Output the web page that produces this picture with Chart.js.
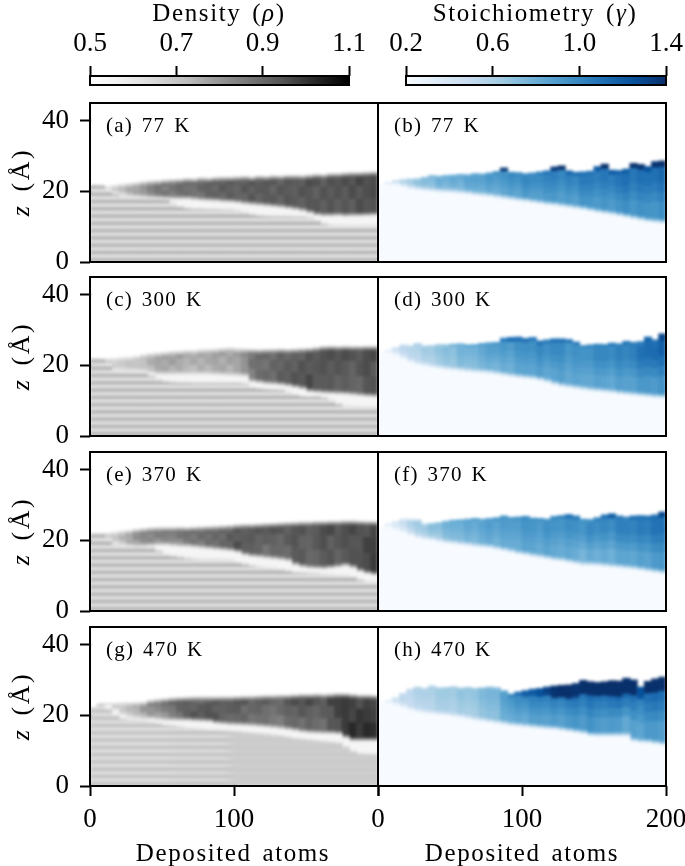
<!DOCTYPE html>
<html>
<head>
<meta charset="utf-8">
<script src="https://cdn.jsdelivr.net/npm/chart.js@4"></script>
<style>
html, body { margin: 0; padding: 0; background: #fff; }
body { width: 685px; height: 866px; overflow: hidden; position: relative; font-family: "Liberation Serif", serif; color: #000; }
canvas { position: absolute; }
.lbl { position: absolute; white-space: nowrap; line-height: 1; }
.big { font-size: 25px; letter-spacing: 1.6px; word-spacing: 3px; transform: translateX(-50%); }
.tag { font-size: 21px; letter-spacing: 1.2px; word-spacing: 2.5px; }
.zlab { font-size: 26px; letter-spacing: 2.6px; word-spacing: 3px; transform: translate(-50%, -50%) rotate(-90deg); }
</style>
</head>
<body>
<script>
// column centres, deposited atoms
const atoms = [2.5,7.5,12.5,17.5,22.5,27.5,32.5,37.5,42.5,47.5,52.5,57.5,62.5,67.5,72.5,77.5,82.5,87.5,92.5,97.5,
  102.5,107.5,112.5,117.5,122.5,127.5,132.5,137.5,142.5,147.5,152.5,157.5,162.5,167.5,172.5,177.5,182.5,187.5,192.5,197.5];

const zTicks = [0, 20, 40];
const densityTicks = [0.5, 0.7, 0.9, 1.1];
const stoichTicks = [0.2, 0.6, 1.0, 1.4];
const greysStops = ["#ffffff","#f0f0f0","#d9d9d9","#bdbdbd","#969696","#737373","#525252","#252525","#000000"];
const bluesStops = ["#f7fbff","#deebf7","#c6dbef","#9ecae1","#6baed6","#4292c6","#2171b5","#08519c","#08306b"];

// substrate layers in z
const stripeZ = [0,1.03,2.06,3.09,4.12,5.15,6.18,7.21,8.24,9.27,10.3,11.33,12.36,13.39,14.42,15.45,16.48,17.51,18.54,19.57,20.6,21.63,22.66,23.69];
const stripeDark = [.74,.74,.74,.74,.74,.74,.74,.74,.74,.74,.74,.74,.74,.74,.74,.74,.74,.74,.74,.74];
const stripeLight = [.62,.62,.62,.62,.62,.62,.62,.62,.62,.62,.62,.62,.62,.62,.62,.62,.62,.62,.62,.62];
const gStripeDark = [.71,.71,.71,.71,.71,.71,.71,.71,.71,.71,.69,.69,.69,.69,.69,.69,.69,.69,.69,.69];
const gStripeLight = [.63,.63,.63,.63,.63,.63,.64,.64,.64,.64,.68,.68,.68,.68,.68,.68,.68,.68,.68,.68];

// small column to column changes seen in the film
const densStreak = [.01,-.01,.01,0,-.02,.01,.02,-.01,-.01,.01,.02,-.02,0,.01,-.01,-.02,.01,.01,-.01,.02,
  0,-.01,.02,-.01,.01,.01,-.02,.01,0,-.01,.02,.01,-.02,.01,-.01,.01,-.01,.02,-.01,0];
const stoichStreak = [.01,-.02,.02,-.01,-.02,.02,.01,-.02,.03,-.01,.01,-.03,.02,.01,-.01,.02,-.02,.01,.02,-.02,
  .03,-.01,-.02,.01,.02,-.02,.01,-.03,.02,.01,-.01,.02,-.02,.01,.03,-.02,.01,-.01,-.02,.02];

// (a) 77 K density
const aTop = [21.7,21.6,21.3,21.7,22.0,22.2,22.4,22.7,22.9,23.0,23.2,23.3,23.4,23.6,23.5,23.8,23.7,23.9,24.0,24.0,
  24.1,24.2,24.0,24.3,24.2,24.4,24.3,24.5,24.5,24.4,24.6,24.8,24.7,25.0,25.0,25.2,25.3,25.3,25.4,25.5];
const aBot = [21.7,21.6,20.8,19.8,19.3,19.0,18.9,18.8,18.7,18.6,18.5,18.4,18.4,18.4,18.2,18.0,17.9,17.8,17.6,17.5,
  17.3,17.0,16.8,16.6,16.4,16.2,16.0,15.7,15.4,15.0,14.4,13.8,13.6,13.6,13.7,13.5,13.6,13.6,13.7,13.8];
const aGap = [21.7,21.6,20.2,19.0,18.4,18.0,17.8,17.6,17.5,17.5,17.4,16.4,15.4,15.0,14.8,14.8,14.7,14.7,14.6,14.6,
  14.4,13.8,13.2,12.9,12.8,12.7,12.7,12.7,12.6,12.6,12.4,11.4,10.6,10.2,10.1,10.0,10.0,10.0,10.1,10.1];
const aUpper = [.7,.7,.74,.8,.84,.87,.89,.91,.91,.92,.92,.93,.93,.93,.93,.94,.94,.95,.95,.96];
const aLower = [.68,.68,.7,.76,.84,.86,.88,.88,.9,.91,.91,.92,.92,.93,.93,.92,.94,.93,.93,.95];

// (c) 300 K density
const cTop = [21.9,21.8,21.9,22.0,22.2,22.3,22.6,23.0,23.3,23.5,23.7,23.9,24.0,24.2,24.2,24.4,24.5,24.6,24.8,24.9,
  24.7,24.6,24.5,24.4,24.5,24.5,24.6,24.5,24.6,24.7,24.8,25.0,25.3,25.4,25.3,25.4,25.3,25.3,25.4,25.4];
const cBot = [21.9,21.8,20.4,19.2,19.0,18.9,18.9,18.8,18.4,18.0,18.0,18.0,18.0,18.0,18.0,18.0,18.0,17.9,17.8,17.7,
  17.6,17.5,15.9,15.6,15.3,15.2,15.0,14.7,14.3,13.9,13.1,12.9,12.7,12.6,12.5,12.4,12.2,12.0,11.8,11.7];
const cGap = [21.9,21.8,19.8,18.4,18.0,17.8,17.7,17.6,16.8,15.8,15.2,15.0,14.9,14.9,14.8,14.8,14.8,14.8,14.8,14.8,
  14.8,14.6,13.4,13.2,13.0,12.9,12.8,12.2,11.4,11.0,10.9,11.0,10.6,9.8,8.8,8.2,8.1,8.0,8.0,8.0];
const cUpper = [.69,.69,.7,.72,.76,.78,.78,.76,.77,.78,.78,.87,.89,.91,.91,.93,.95,.95,.95,.95];
const cLower = [.68,.68,.69,.7,.74,.76,.74,.73,.74,.76,.76,.85,.89,.92,.94,.95,.93,.92,.91,.93];

// (e) 370 K density
const eTop = [21.9,21.9,22.1,22.3,22.6,22.8,23.1,23.3,23.5,23.6,23.6,23.6,23.7,23.6,23.7,23.8,23.9,24.0,24.1,24.2,
  24.4,24.5,24.5,24.6,24.7,24.8,24.9,25.0,25.1,25.2,25.2,25.3,25.3,25.4,25.4,25.5,25.5,25.4,25.3,25.3];
const eBot = [21.9,21.9,20.6,19.6,19.0,18.8,18.7,18.8,19.0,19.2,19.2,19.0,18.8,18.8,18.6,18.4,18.2,18.0,17.8,17.6,
  17.2,16.4,16.0,15.8,15.5,15.3,15.1,14.8,13.6,13.0,12.7,12.6,12.5,12.7,13.0,13.4,12.8,11.8,11.2,10.8];
const eGap = [21.9,21.9,19.8,18.6,18.0,17.8,17.7,17.7,17.6,16.8,15.7,15.3,15.0,14.7,14.5,14.4,14.4,14.4,14.3,14.2,
  13.4,13.0,12.6,12.3,12.0,11.8,11.5,11.1,10.7,10.6,10.5,10.4,10.2,10.0,9.8,9.7,9.4,8.6,8.1,8.0];
const eUpper = [.69,.7,.74,.83,.86,.88,.88,.9,.9,.9,.92,.93,.94,.94,.93,.93,.95,.95,.96,.96];
const eLower = [.68,.68,.71,.78,.82,.82,.82,.86,.88,.9,.94,.92,.88,.9,.92,.91,.92,.93,.94,.98];

// (g) 470 K density
const gTop = [22.3,23.2,23.4,23.5,23.6,23.6,23.6,23.7,24.3,24.5,24.7,24.9,25.0,25.1,25.2,25.2,25.2,25.2,25.2,25.2,
  25.3,25.4,25.4,25.5,25.6,25.6,25.7,25.7,25.8,25.9,25.9,26.0,25.9,26.0,26.1,26.1,25.9,25.7,25.7,25.6];
const gBot = [22.3,23.2,23.4,22.0,20.6,20.0,19.7,19.5,19.5,19.3,19.1,19.1,19.1,19.1,19.0,18.9,18.8,18.3,18.1,17.9,
  17.8,17.7,17.6,17.4,17.2,17.0,16.8,16.5,16.2,15.8,15.6,15.5,15.4,15.4,15.3,14.2,13.4,13.4,13.4,13.4];
const gGap = [22.3,23.2,21.5,19.8,18.8,18.6,18.4,18.2,17.8,17.4,17.0,16.8,16.5,16.2,16.0,15.8,15.6,15.5,15.4,15.3,
  15.2,15.0,14.8,14.6,14.4,14.2,14.0,13.6,13.2,13.0,12.8,12.6,12.4,12.2,12.0,10.8,9.6,8.9,8.8,8.7];
const gUpper = [.69,.69,.71,.78,.85,.89,.93,.91,.91,.93,.93,.92,.92,.91,.95,.95,.93,.99,.97,.97];
const gLower = [.68,.68,.69,.72,.78,.8,.88,.95,.94,.92,.89,.89,.87,.87,.89,.89,.89,.95,1.01,1.01];

// (b) 77 K stoichiometry
const bTop = [22.0,22.4,23.0,23.3,23.5,23.6,24.0,24.5,24.3,24.5,24.6,24.8,24.7,25.0,24.9,25.2,25.6,26.6,25.4,25.3,
  25.0,25.2,25.5,25.8,26.9,27.2,25.8,25.4,25.5,25.7,27.0,27.7,26.0,25.9,26.3,27.9,27.6,27.0,28.4,28.6];
const bBot = [22.0,22.0,21.6,21.0,20.5,20.2,20.0,19.8,19.6,19.5,19.4,19.2,19.0,18.7,18.5,18.3,18.0,17.7,17.4,17.1,
  16.9,16.6,16.3,16.0,15.8,15.5,15.2,14.9,14.6,14.2,13.8,13.5,13.2,12.8,12.4,12.0,11.6,11.2,11.0,10.8];
const bCrustLevel = [.3,.45,.5,.55,.6,.62,.68,.72,.75,.78,.8,.82,.82,.85,.85,.9,.95,1.38,1.0,.98,
  .98,.98,1.02,1.08,1.36,1.4,1.15,1.1,1.1,1.1,1.2,1.4,1.2,1.15,1.2,1.4,1.38,1.25,1.38,1.4];
const bCrust = [.5,.6,.6,.6,.8,.8,.8,.8,1,1.2,1,1.2,1.2,1.2,1.2,1.4,1.4,1.4,1.6,1.8];
const bUpper = [.4,.55,.65,.72,.78,.82,.85,.88,.92,.95,.98,1.0,1.02,1.02,1.04,1.05,1.06,1.08,1.1,1.12];
const bLower = [.35,.45,.58,.68,.72,.75,.78,.8,.82,.85,.88,.9,.9,.9,.92,.92,.92,.94,.95,.95];

// (d) 300 K stoichiometry
const dTop = [23.8,24.2,25.0,25.8,25.5,26.2,25.5,25.6,25.9,25.8,26.0,26.1,25.8,25.9,26.2,26.4,26.5,27.7,27.9,28.0,
  27.6,27.9,26.9,27.2,27.5,27.5,27.3,26.6,25.6,25.8,26.0,25.9,26.3,26.1,26.8,26.5,26.7,28.0,27.2,28.9];
const dBot = [23.8,23.5,22.6,21.6,20.6,20.0,19.6,19.2,18.9,18.6,18.4,18.2,18.0,17.8,17.7,17.5,17.2,16.9,16.6,16.3,
  16.1,15.9,15.5,15.0,14.3,13.8,13.5,13.2,12.9,12.6,12.4,12.2,12.0,11.7,11.5,11.3,11.1,10.9,10.7,10.6];
const dCrustLevel = [.3,.35,.45,.5,.55,.58,.6,.62,.65,.7,.78,.8,.85,.85,.88,.9,.92,1.05,1.1,1.1,
  1.1,1.05,1.1,1.05,1.1,1.1,1.08,1.05,.98,1.0,1.02,1.02,1.05,1.03,1.08,1.05,1.05,1.15,1.1,1.3];
const dCrust = [.5,.6,.6,.6,.8,.8,.8,.8,1.2,1.4,1.2,1.2,1.2,1,1,1,1,1,1.4,2];
const dUpper = [.35,.48,.55,.62,.68,.72,.78,.82,.9,.92,.95,.98,.98,.95,.95,.98,1.0,1.02,1.08,1.15];
const dLower = [.3,.42,.5,.55,.62,.68,.72,.75,.78,.82,.85,.87,.85,.85,.85,.85,.85,.88,.9,.92];

// (f) 370 K stoichiometry
const fTop = [24.0,24.7,25.3,26.0,26.0,25.9,24.6,24.8,25.0,25.4,25.7,25.8,26.0,26.2,26.0,26.2,26.4,26.9,26.5,26.6,
  26.8,26.3,26.2,26.0,26.8,27.0,27.3,26.9,26.0,25.9,26.4,27.2,27.5,26.9,26.6,26.9,27.0,26.9,27.2,28.0];
const fBot = [24.0,23.3,22.6,22.0,21.2,20.5,20.1,19.8,19.4,19.0,18.8,18.5,18.3,18.0,17.8,17.6,17.2,16.8,16.4,15.9,
  15.6,15.2,14.9,14.5,14.1,13.9,13.5,13.1,12.7,12.7,12.6,12.4,12.2,12.0,11.8,11.6,11.3,11.0,10.7,10.4];
const fCrustLevel = [.3,.32,.38,.42,.42,.45,.6,.68,.72,.78,.82,.85,.85,.88,.85,.88,.92,.95,.92,.95,
  .98,.95,.95,.95,.98,1.02,1.1,1.05,.95,.95,1.02,1.1,1.2,1.05,1.02,1.1,1.1,1.1,1.12,1.3];
const fCrust = [.5,.5,.6,.8,.8,.8,.8,1,1,1,1,1,1,1.2,1,1.2,1.4,1.2,1.2,1.6];
const fUpper = [.34,.4,.58,.68,.74,.78,.82,.85,.88,.9,.92,.92,.95,.95,.95,.98,1.0,1.02,1.04,1.08];
const fLower = [.3,.36,.5,.6,.66,.72,.75,.78,.8,.82,.84,.84,.84,.82,.78,.8,.82,.84,.86,.9];

// (h) 470 K stoichiometry
const hTop = [23.8,24.2,25.0,26.2,27.4,28.0,27.6,28.3,27.8,27.9,28.1,27.7,27.9,27.6,27.8,28.0,27.8,27.0,26.0,26.6,
  27.0,27.4,27.6,28.0,28.3,28.5,28.6,29.0,29.9,29.5,29.3,29.5,29.8,29.7,30.5,30.0,28.0,29.6,30.3,30.8];
const hBot = [23.8,23.3,22.6,22.0,21.3,20.8,20.5,20.2,20.0,19.8,19.5,19.2,18.8,18.4,18.1,17.8,17.5,17.2,16.9,16.7,
  16.5,16.3,16.1,15.9,15.8,15.5,15.2,14.9,14.6,14.0,13.9,13.9,13.9,13.9,13.9,12.4,12.1,12.0,11.7,11.4];
const hCrustLevel = [.3,.35,.42,.48,.52,.55,.56,.58,.6,.62,.62,.65,.65,.68,.68,.7,.72,.78,1.0,1.1,
  1.18,1.2,1.25,1.32,1.38,1.4,1.4,1.38,1.4,1.4,1.4,1.4,1.4,1.4,1.4,1.4,1.25,1.4,1.4,1.4];
const hCrust = [.5,.5,.5,.5,.5,.5,.5,.5,.5,1.2,2,2.5,3.5,4,4,4,4.5,4.5,3.5,4];
const hUpper = [.35,.45,.55,.6,.62,.65,.68,.72,.78,.92,1.0,1.02,1.05,1.08,1.1,1.1,1.12,1.15,1.05,1.12];
const hLower = [.3,.42,.5,.55,.58,.6,.62,.66,.72,.82,.85,.87,.88,.9,.92,.92,.9,.85,.88,.9];

const rowTops = [103, 277, 452, 627];
const panelH = 159;

function hexToRgb(h) {
    return [parseInt(h.substr(1, 2), 16), parseInt(h.substr(3, 2), 16), parseInt(h.substr(5, 2), 16)];
}

function cmap(stops, lo, hi, v) {
    let t = Math.min(1, Math.max(0, (v - lo) / (hi - lo))) * (stops.length - 1);
    let i = Math.min(stops.length - 2, Math.floor(t));
    let a = hexToRgb(stops[i]), b = hexToRgb(stops[i + 1]), f = t - i;
    return "rgb(" + a.map((c, k) => Math.round(c + (b[k] - c) * f)).join(",") + ")";
}
const grey = v => cmap(greysStops, 0.5, 1.1, v);
const blue = v => cmap(bluesStops, 0.2, 1.4, v);

// levels are read every 10 atoms, columns are 5 atoms wide
function colLevel(arr, i) {
    let h = Math.floor(i / 2);
    return i % 2 == 0 || h == arr.length - 1 ? arr[h] : (arr[h] + arr[h + 1]) / 2;
}

// one layer of floating bars, one bar per column
function band(lows, highs, colors) {
    return {
        data: atoms.map((x, i) => ({ x: x, y: highs[i] > lows[i] ? [lows[i], highs[i]] : null })),
        backgroundColor: colors,
        grouped: false,
        barPercentage: 1.03,
        categoryPercentage: 1,
        inflateAmount: 0.4,
        borderWidth: 0
    };
}

// stacks the film from edge functions (per column) and level functions (per column)
function filmBands(top, bot, edges, levels, paint) {
    let sets = [];
    let prev = bot;
    edges.forEach((edge, j) => {
        let next = atoms.map((x, i) => Math.min(top[i], Math.max(prev[i], edge(i, bot[i], top[i]))));
        sets.push(band(prev, next, atoms.map((x, i) => paint(levels[j](i)))));
        prev = next;
    });
    return sets;
}

function densitySets(top, bot, gap, upper, lower, sDark, sLight, shift) {
    let sets = [];
    let st = (i, s) => densStreak[(i + shift + s) % 40];
    for (let k = 0; k < stripeZ.length - 1; k++) {
        let levels = k % 2 == 0 ? sDark : sLight;
        sets.push(band(atoms.map(() => stripeZ[k]), gap.map(g => Math.min(g, stripeZ[k + 1])),
            atoms.map((x, i) => grey(colLevel(levels, i)))));
    }
    // film foot reaches a little under the read edge, the gap fades up from the stripes
    let foot = bot.map((b, i) => Math.max(gap[i], b - 0.8));
    let gapFade = gap.map((g, i) => Math.min(foot[i], g + 0.5));
    sets.push(band(gap, gapFade, atoms.map(() => grey(0.6))));
    sets.push(band(gapFade, foot, atoms.map(() => grey(0.55))));
    const lo = i => colLevel(lower, i), up = i => colLevel(upper, i);
    return sets.concat(filmBands(top, foot, [
        (i, b) => b + 0.5,
        (i, b) => b + 1,
        (i, b, t) => b + (t - b) * 0.4,
        (i, b, t) => b + (t - b) * 0.7,
        (i, b, t) => t - 1.2,
        (i, b, t) => t - 0.6,
        (i, b, t) => t
    ], [
        i => 0.56 + (lo(i) - 0.56) * 0.35,
        i => 0.56 + (lo(i) - 0.56) * 0.72,
        i => lo(i) + st(i, 0),
        i => (lo(i) + up(i)) / 2 + st(i, 1),
        i => up(i) + st(i, 0),
        i => 0.58 + (up(i) - 0.58) * 0.75,
        i => 0.55 + (up(i) - 0.55) * 0.4
    ], grey));
}

function stoichSets(top, bot, crustLevel, crust, upper, lower, shift) {
    let st = i => stoichStreak[(i + shift) % 40];
    const lo = i => colLevel(lower, i), up = i => colLevel(upper, i);
    const under = (i, t) => t - crust[Math.floor(i / 2)];
    let sets = [band(atoms.map(() => 0), bot, atoms.map(() => blue(0.2)))];
    return sets.concat(filmBands(top, bot, [
        (i, b, t) => Math.min(under(i, t), b + 0.4),
        (i, b, t) => Math.min(under(i, t), b + 0.8),
        (i, b, t) => Math.min(under(i, t), b + 1.2),
        (i, b, t) => Math.min(under(i, t), b + (t - b) * 0.35),
        (i, b, t) => Math.min(under(i, t), b + (t - b) * 0.5),
        (i, b, t) => Math.min(under(i, t), b + (t - b) * 0.65),
        (i, b, t) => under(i, t),
        (i, b, t) => t
    ], [
        i => 0.2 + (lo(i) - 0.2) * 0.25,
        i => 0.2 + (lo(i) - 0.2) * 0.55,
        i => 0.2 + (lo(i) - 0.2) * 0.82,
        i => lo(i) + st(i),
        i => lo(i) + (up(i) - lo(i)) * 0.35 + st(i),
        i => lo(i) + (up(i) - lo(i)) * 0.7 + st(i),
        i => up(i) + st(i),
        i => crustLevel[i]
    ], blue));
}

// interpolated look of the original image
const softPlugin = {
    id: "soft",
    afterDatasetsDraw(chart) {
        const a = chart.chartArea, c = chart.canvas;
        const copy = document.createElement("canvas");
        copy.width = c.width;
        copy.height = c.height;
        copy.getContext("2d").drawImage(c, 0, 0);
        const ctx = chart.ctx;
        ctx.save();
        ctx.beginPath();
        ctx.rect(a.left, a.top, a.right - a.left, a.bottom - a.top);
        ctx.clip();
        ctx.fillStyle = "#fff";
        ctx.fillRect(a.left, a.top, a.right - a.left, a.bottom - a.top);
        ctx.filter = "blur(1.4px)";
        ctx.drawImage(copy, 0, 0);
        ctx.restore();
    }
};

const framePlugin = {
    id: "frame",
    afterDraw(chart) {
        const a = chart.chartArea, ctx = chart.ctx;
        ctx.save();
        ctx.strokeStyle = "#000";
        ctx.lineWidth = 2;
        ctx.strokeRect(a.left, a.top, a.right - a.left, a.bottom - a.top);
        ctx.restore();
    }
};

function addCanvas(left, top, w, h) {
    const cv = document.createElement("canvas");
    cv.style.left = left + "px";
    cv.style.top = top + "px";
    cv.style.width = w + "px";
    cv.style.height = h + "px";
    cv.width = w;
    cv.height = h;
    document.body.appendChild(cv);
    return cv;
}

const tickFont = { family: "Liberation Serif", size: 27 };
const tickGrid = { drawOnChartArea: false, drawTicks: true, tickLength: 10, tickWidth: 2, tickColor: "#000", offset: false };

function panel(sets, col, row) {
    const bottomRow = row == 3;
    const left = col == 0 ? 0 : 340;
    const top = rowTops[row] - 14;
    const w = col == 0 ? 410 : 370;
    const h = panelH + 14 + (bottomRow ? 44 : 14);
    const xAtomTicks = [0, 100, 200];
    new Chart(addCanvas(left, top, w, h), {
        type: "bar",
        data: { datasets: sets },
        options: {
            responsive: false,
            animation: false,
            events: [],
            layout: { padding: { left: col == 0 ? 0 : 38, right: col == 0 ? 32 : 44, top: 14, bottom: bottomRow ? 0 : 14 } },
            plugins: { legend: { display: false }, tooltip: { enabled: false } },
            scales: {
                x: {
                    type: "linear", min: 0, max: 200, offset: false, display: bottomRow,
                    grid: tickGrid, border: { display: false },
                    afterBuildTicks: s => { s.ticks = xAtomTicks.map(v => ({ value: v })); },
                    afterFit: s => { s.height = bottomRow ? 44 : 0; s.paddingLeft = 0; s.paddingRight = 0; },
                    ticks: {
                        color: "#000", font: tickFont, padding: 8, maxRotation: 0, autoSkip: false,
                        callback: v => (col == 0 && v == 200 ? "" : String(v))
                    }
                },
                y: {
                    type: "linear", min: 0, max: 45, display: col == 0,
                    grid: tickGrid, border: { display: false },
                    afterBuildTicks: s => { s.ticks = zTicks.map(v => ({ value: v })); },
                    afterFit: s => { s.width = col == 0 ? 90 : 0; s.paddingTop = 0; s.paddingBottom = 0; },
                    ticks: { color: "#000", font: tickFont, padding: 11, callback: v => String(v) }
                }
            }
        },
        plugins: [softPlugin, framePlugin]
    });
}

function colorbar(left, width, padL, padR, lo, hi, ticks, stops) {
    new Chart(addCanvas(left, 20, width, 66), {
        type: "bar",
        data: {
            labels: ["scale"],
            datasets: [{
                data: [[lo, hi]],
                categoryPercentage: 1,
                barPercentage: 1,
                backgroundColor: c => {
                    const a = c.chart.chartArea;
                    if (!a) return "#888";
                    const g = c.chart.ctx.createLinearGradient(a.left, 0, a.right, 0);
                    stops.forEach((s, i) => g.addColorStop(i / (stops.length - 1), s));
                    return g;
                }
            }]
        },
        options: {
            indexAxis: "y",
            responsive: false,
            animation: false,
            events: [],
            layout: { padding: { left: padL, right: padR, top: 0, bottom: 1 } },
            plugins: { legend: { display: false }, tooltip: { enabled: false } },
            scales: {
                x: {
                    type: "linear", position: "top", min: lo, max: hi,
                    grid: tickGrid, border: { display: false },
                    afterBuildTicks: s => { s.ticks = ticks.map(v => ({ value: v })); },
                    afterFit: s => { s.height = 56; },
                    ticks: { color: "#000", font: tickFont, padding: 6, maxRotation: 0, autoSkip: false, callback: v => v.toFixed(1) }
                },
                y: { display: false }
            }
        },
        plugins: [framePlugin]
    });
}

function addLabel(cls, html, left, top) {
    const d = document.createElement("div");
    d.className = "lbl " + cls;
    d.innerHTML = html;
    d.style.left = left + "px";
    d.style.top = top + "px";
    document.body.appendChild(d);
}

colorbar(40, 340, 50, 31, 0.5, 1.1, densityTicks, greysStops);
colorbar(360, 340, 46, 34, 0.2, 1.4, stoichTicks, bluesStops);

panel(densitySets(aTop, aBot, aGap, aUpper, aLower, stripeDark, stripeLight, 0), 0, 0);
panel(stoichSets(bTop, bBot, bCrustLevel, bCrust, bUpper, bLower, 0), 1, 0);
panel(densitySets(cTop, cBot, cGap, cUpper, cLower, stripeDark, stripeLight, 7), 0, 1);
panel(stoichSets(dTop, dBot, dCrustLevel, dCrust, dUpper, dLower, 9), 1, 1);
panel(densitySets(eTop, eBot, eGap, eUpper, eLower, stripeDark, stripeLight, 17), 0, 2);
panel(stoichSets(fTop, fBot, fCrustLevel, fCrust, fUpper, fLower, 19), 1, 2);
panel(densitySets(gTop, gBot, gGap, gUpper, gLower, gStripeDark, gStripeLight, 29), 0, 3);
panel(stoichSets(hTop, hBot, hCrustLevel, hCrust, hUpper, hLower, 31), 1, 3);

addLabel("big", 'Density (<i>ρ</i>)', 219, 0);
addLabel("big", 'Stoichiometry (<i>γ</i>)', 535, 0);
addLabel("big", 'Deposited atoms', 233, 840);
addLabel("big", 'Deposited atoms', 522, 840);

const tags = [["(a) 77 K", "(b) 77 K"], ["(c) 300 K", "(d) 300 K"], ["(e) 370 K", "(f) 370 K"], ["(g) 470 K", "(h) 470 K"]];
tags.forEach((t, r) => {
    addLabel("tag", t[0], 106, rowTops[r] + 12);
    addLabel("tag", t[1], 394, rowTops[r] + 12);
    addLabel("zlab", '<i>z</i> (Å)', 21, rowTops[r] + 79);
});
</script>
</body>
</html>
